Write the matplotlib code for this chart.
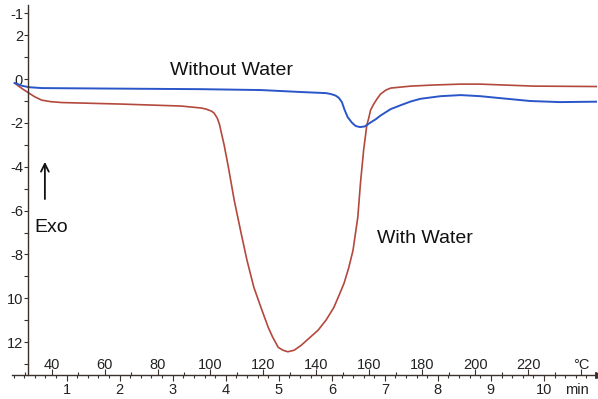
import numpy as np
import matplotlib
matplotlib.use("Agg")
import matplotlib.pyplot as plt
from matplotlib.ticker import FixedLocator, MultipleLocator

plt.rcParams['font.family'] = ['Liberation Sans', 'DejaVu Sans']

# time axis (min) and heat flow readings
dry_t = [0.02, 0.15, 0.29, 0.53, 1.66, 3.54, 4.66, 5.42, 5.89, 5.98, 6.07, 6.13, 6.19, 6.24,
         6.30, 6.38, 6.45, 6.53, 6.62, 6.73, 6.83, 6.92, 7.11, 7.30, 7.49, 7.67, 8.05, 8.43,
         8.80, 9.18, 9.74, 10.30, 11.02]
dry_q = [-0.18, -0.30, -0.37, -0.41, -0.43, -0.46, -0.50, -0.59, -0.64, -0.68, -0.75, -0.85, -1.05, -1.40,
         -1.74, -1.99, -2.14, -2.19, -2.16, -1.98, -1.83, -1.66, -1.37, -1.19, -1.02, -0.90, -0.78, -0.73,
         -0.78, -0.87, -1.00, -1.05, -1.03]

wet_t = [0.02, 0.10, 0.20, 0.29, 0.40, 0.53, 0.70, 0.91, 2.03, 3.16, 3.54, 3.63, 3.73, 3.78,
         3.84, 3.88, 3.91, 3.97, 4.05, 4.16, 4.29, 4.40, 4.53, 4.67, 4.80, 4.88, 4.99, 5.08,
         5.17, 5.29, 5.42, 5.74, 5.89, 6.04, 6.13, 6.23, 6.32, 6.40, 6.49, 6.54, 6.60, 6.66,
         6.70, 6.73, 6.79, 6.85, 6.92, 7.02, 7.11, 7.49, 7.92, 8.43, 8.80, 9.80, 11.02]
wet_q = [-0.18, -0.33, -0.50, -0.64, -0.81, -0.96, -1.03, -1.07, -1.14, -1.23, -1.32, -1.37, -1.46, -1.55,
         -1.78, -2.05, -2.37, -3.01, -4.02, -5.53, -7.03, -8.26, -9.50, -10.46, -11.32, -11.75, -12.24, -12.37,
         -12.44, -12.37, -12.15, -11.46, -11.00, -10.41, -9.90, -9.32, -8.60, -7.81, -6.30, -4.75, -3.24, -2.10,
         -1.74, -1.42, -1.14, -0.91, -0.68, -0.50, -0.41, -0.32, -0.27, -0.23, -0.23, -0.32, -0.34]

# y tick labels as printed (partly clipped in the original)
y_ticks = [3, 2, 0, -2, -4, -6, -8, -10, -12]
y_labels = ['-1', '2', '0', '-2', '-4', '-6', '-8', '10', '12']
min_ticks = [1, 2, 3, 4, 5, 6, 7, 8, 9, 10]
temp_ticks = [40, 60, 80, 100, 120, 140, 160, 180, 200, 220, 240]

axis_col = '#3a302c'
red = '#b3483c'
blue = '#2b56c9'


def min2temp(m):
    return 25.6 + 20.04 * np.asarray(m)


def temp2min(T):
    return (np.asarray(T) - 25.6) / 20.04


fig = plt.figure(figsize=(5.98, 3.99), dpi=100)
ax = fig.add_axes([12 / 598, 24 / 399, 585 / 598, 370 / 399])

ax.plot(wet_t, wet_q, color=red, lw=1.2, solid_joinstyle='round')
ax.plot(dry_t, dry_q, color=blue, lw=1.4, solid_joinstyle='round')

ax.set_xlim(-0.03, 11.0)
ax.set_ylim(-13.5, 3.38)

# spines
for s in ['top', 'right']:
    ax.spines[s].set_visible(False)
ax.spines['left'].set_position(('data', 0.28))
ax.spines['left'].set_color(axis_col)
ax.spines['bottom'].set_color(axis_col)
ax.spines['left'].set_linewidth(1.0)
ax.spines['bottom'].set_linewidth(1.0)

# y axis
ax.set_yticks(y_ticks)
ax.set_yticklabels(y_labels)
ax.yaxis.set_minor_locator(FixedLocator([1, -1, -3, -5, -7, -9, -11, -13]))
ax.tick_params(axis='y', which='both', direction='out', length=3, width=0.8,
               color=axis_col, labelsize=10.5, labelcolor='#222222', pad=1)

# minutes below the line
ax.set_xticks(min_ticks)
ax.xaxis.set_minor_locator(MultipleLocator(0.2))
ax.tick_params(axis='x', which='major', direction='out', length=4, width=0.8,
               color=axis_col, labelsize=10.5, labelcolor='#222222', pad=2)
ax.tick_params(axis='x', which='minor', direction='out', length=2.5, width=0.8, color=axis_col)

# temperature above the line
sec = ax.secondary_xaxis(0.0, functions=(min2temp, temp2min))
sec.set_alignment('top')
for s in sec.spines.values():
    s.set_visible(False)
sec.xaxis.set_major_locator(FixedLocator(temp_ticks))
sec.xaxis.set_minor_locator(MultipleLocator(10))
sec.set_xticklabels([str(t) if t < 240 else '°C' for t in temp_ticks])
sec.tick_params(axis='x', which='major', direction='out', length=4, width=0.8,
                color=axis_col, labelsize=10.5, labelcolor='#222222', pad=-2)
sec.tick_params(axis='x', which='minor', direction='out', length=2.5, width=0.8, color=axis_col)

# arrow at the end of the time axis
ax.plot(1, 0, marker=(3, 0, -90), ms=5, color=axis_col, transform=ax.transAxes, clip_on=False)
ax.text(10.62, -0.022, 'min', transform=ax.get_xaxis_transform(), ha='center', va='top',
        fontsize=10.5, color='#222222')

# labels on the plot
ax.text(2.94, 0.4, 'Without Water', fontsize=14, va='center', ha='left', color='#111111')
ax.text(6.85, -7.26, 'With Water', fontsize=14, va='center', ha='left', color='#111111')
ax.text(0.40, -6.76, 'Exo', fontsize=14, va='center', ha='left', color='#111111')
ax.annotate('', xy=(0.59, -3.65), xytext=(0.59, -5.6),
            arrowprops=dict(arrowstyle='->', color='#111111', lw=1.3, mutation_scale=14))

fig.savefig('out.png', dpi=100)
